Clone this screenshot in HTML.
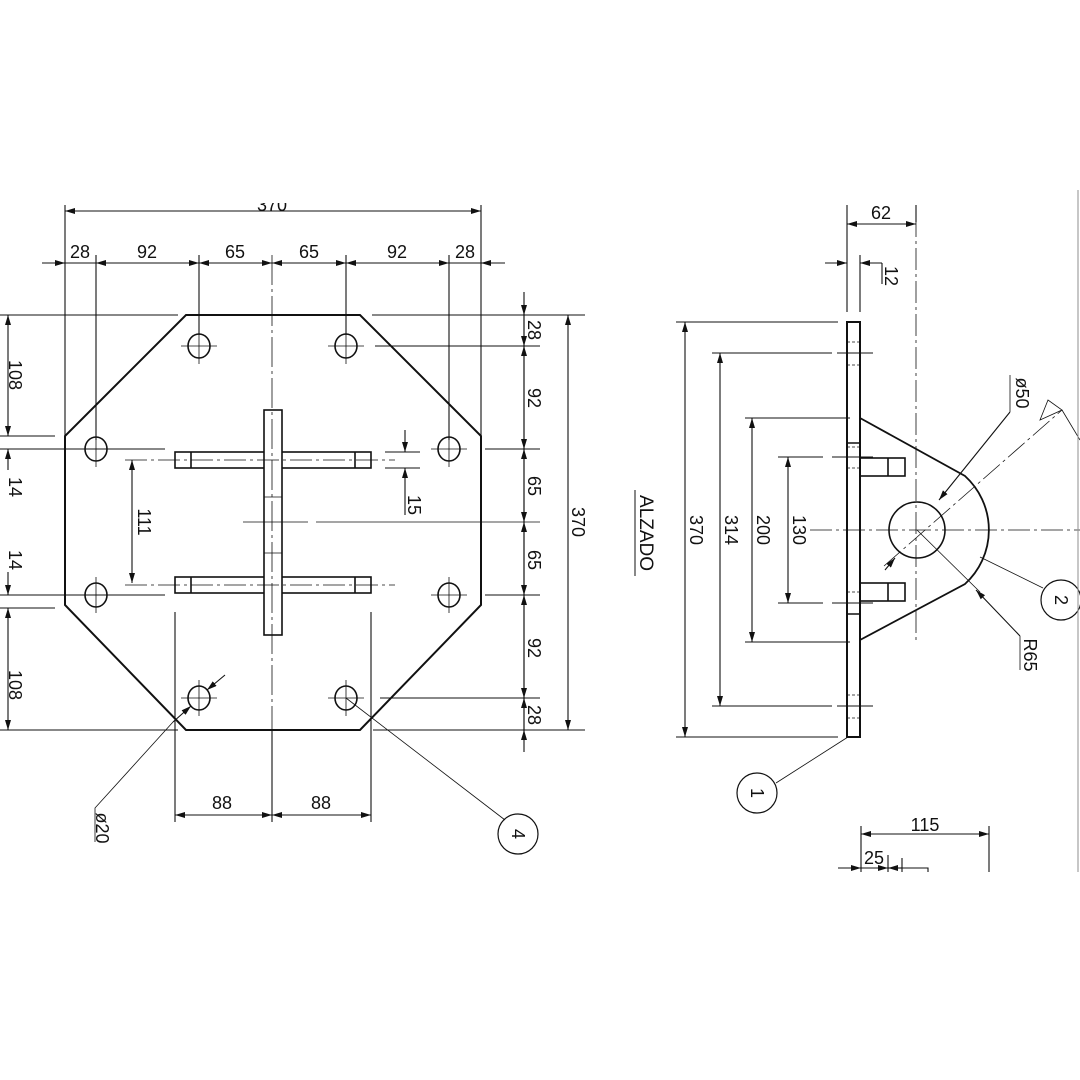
<!DOCTYPE html>
<html><head><style>
html,body{margin:0;padding:0;background:#fff;}
svg{display:block;}
text{font-family:"Liberation Sans",sans-serif;font-size:18px;fill:#111;}
</style></head><body>
<svg width="1080" height="1080" viewBox="0 0 1080 1080" xmlns="http://www.w3.org/2000/svg">
<defs>
<marker id="a" viewBox="0 0 10 6" refX="10" refY="3" markerWidth="10" markerHeight="6" orient="auto-start-reverse" markerUnits="userSpaceOnUse"><path d="M0,0L10,3L0,6z" fill="#111"/></marker>
</defs>
<g stroke="#111" fill="none" stroke-width="1.1">
<polygon points="186,315 360,315 481,436 481,605 360,730 186,730 65,605 65,436" stroke-width="2"/>
<g stroke-width="1.6">
<ellipse cx="199" cy="346" rx="11" ry="12"/><ellipse cx="346" cy="346" rx="11" ry="12"/>
<ellipse cx="96" cy="449" rx="11" ry="12"/><ellipse cx="449" cy="449" rx="11" ry="12"/>
<ellipse cx="96" cy="595" rx="11" ry="12"/><ellipse cx="449" cy="595" rx="11" ry="12"/>
<ellipse cx="199" cy="698" rx="11" ry="12"/><ellipse cx="346" cy="698" rx="11" ry="12"/>
</g>
<g stroke-width="0.8">
<path d="M181,346h36M199,328v36M328,346h36M346,328v36M78,449h36M96,431v36M431,449h36M449,431v36M78,595h36M96,577v36M431,595h36M449,577v36M181,698h36M199,680v36M328,698h36M346,680v36"/>
</g>
<g stroke-width="1.6">
<rect x="175" y="452" width="196" height="16"/>
<rect x="175" y="577" width="196" height="16"/>
<path d="M191,452v16M355,452v16M191,577v16M355,577v16"/>
<rect x="264" y="410" width="18" height="225" fill="#fff"/>
</g>
<path d="M264,497h18M264,553h18" stroke-width="0.8"/>
<path d="M272,255V730" stroke-dasharray="30,4,3,4" stroke-width="0.8"/>
<path d="M125,460H395M125,585H395" stroke-dasharray="22,4,3,4" stroke-width="0.8"/>
<path d="M243,522h65M316,522H540" stroke-width="0.8"/>
<path d="M65,205V436M481,205V436"/>
<path d="M65,211H481" marker-start="url(#a)" marker-end="url(#a)"/>
<path d="M96,255V440M199,255V335M346,255V335M449,255V440"/>
<path d="M42,263H65M65,263H96M96,263H199M199,263H272M272,263H346M346,263H449M449,263H481M481,263H505"/>
<path d="M55,263H65" marker-end="url(#a)"/><path d="M96,263H199" marker-start="url(#a)" marker-end="url(#a)"/>
<path d="M199,263H272" marker-start="url(#a)" marker-end="url(#a)"/><path d="M272,263H346" marker-start="url(#a)" marker-end="url(#a)"/>
<path d="M346,263H449" marker-start="url(#a)" marker-end="url(#a)"/><path d="M491,263H481" marker-end="url(#a)"/>
<path d="M0,315H178M372,315H585M375,346H540M485,449H540M485,595H540M380,698H540M0,730H178M373,730H585"/>
<path d="M524,292V752"/>
<path d="M524,305V315" marker-end="url(#a)"/><path d="M524,315V346" marker-end="url(#a)"/>
<path d="M524,346V449" marker-start="url(#a)" marker-end="url(#a)"/><path d="M524,449V522" marker-start="url(#a)" marker-end="url(#a)"/>
<path d="M524,522V595" marker-start="url(#a)" marker-end="url(#a)"/><path d="M524,595V698" marker-start="url(#a)" marker-end="url(#a)"/>
<path d="M524,698V730" marker-start="url(#a)"/><path d="M524,740V730" marker-end="url(#a)"/>
<path d="M568,315V730" marker-start="url(#a)" marker-end="url(#a)"/>
<path d="M0,436H55M0,449H165M0,595H165M0,608H55"/>
<path d="M8,315V436" marker-start="url(#a)" marker-end="url(#a)"/>
<path d="M8,449V470" marker-start="url(#a)"/><path d="M8,572V595" marker-end="url(#a)"/>
<path d="M8,608V730" marker-start="url(#a)" marker-end="url(#a)"/>
<path d="M132,460V583" marker-start="url(#a)" marker-end="url(#a)"/>
<path d="M385,452H420M385,468H420"/>
<path d="M405,430V452" marker-end="url(#a)"/><path d="M405,515V468" marker-end="url(#a)"/>
<path d="M175,612V822M371,612V822M272,730V822"/>
<path d="M175,815H272" marker-start="url(#a)" marker-end="url(#a)"/>
<path d="M272,815H371" marker-start="url(#a)" marker-end="url(#a)"/>
<path d="M225,675L207,690" marker-end="url(#a)"/>
<path d="M173,722L191,706" marker-end="url(#a)"/>
<path d="M173,722L95,808V842" stroke-width="0.8"/>
<path d="M346,698L505,820" stroke-width="0.8"/>
<circle cx="518" cy="834" r="20" stroke-width="1.2"/>

<rect x="847" y="322" width="13" height="415" stroke-width="2"/>
<path d="M847,443h13M847,614h13" stroke-width="1.5"/>
<path d="M847,342h13M847,365h13M847,447h13M847,468h13M847,592h13M847,614h13M847,695h13M847,718h13" stroke-width="0.7" stroke-dasharray="3,2"/>
<path d="M860,418L965,476A73,73 0 0 1 965,584L860,640" stroke-width="1.8"/>
<circle cx="917" cy="530" r="28" stroke-width="1.6"/>
<rect x="860" y="458" width="45" height="18" stroke-width="1.6"/><path d="M888,458v18M888,583v18" stroke-width="1.6"/>
<rect x="860" y="583" width="45" height="18" stroke-width="1.6"/>
<path d="M916,215V640" stroke-dasharray="22,4,3,4" stroke-width="0.8"/>
<path d="M810,530H1080" stroke-dasharray="22,4,3,4" stroke-width="0.8"/>
<path d="M884,566L1062,410" stroke-dasharray="22,4,3,4" stroke-width="0.8"/>
<path d="M847,205V312M916,205V222M860,255V312"/>
<path d="M847,224H916" marker-start="url(#a)" marker-end="url(#a)"/>
<path d="M825,263H847" marker-end="url(#a)"/><path d="M882,263H860" marker-end="url(#a)"/>
<path d="M882,263V284"/>
<path d="M676,322H838M712,353H832M837,353H873M745,418H850M778,457H823M832,457H873M778,603H823M832,603H873M745,642H850M712,706H832M837,706H873M676,737H838"/>
<path d="M685,322V737" marker-start="url(#a)" marker-end="url(#a)"/>
<path d="M720,353V706" marker-start="url(#a)" marker-end="url(#a)"/>
<path d="M752,418V642" marker-start="url(#a)" marker-end="url(#a)"/>
<path d="M788,457V603" marker-start="url(#a)" marker-end="url(#a)"/>
<path d="M1010,412L939,500" marker-end="url(#a)"/><path d="M1010,412V375" stroke-width="0.8"/>
<path d="M885,570L895,558" marker-end="url(#a)"/>
<path d="M917,530L980,592" stroke-width="0.8"/><path d="M1020,636L976,590" marker-end="url(#a)"/>
<path d="M1020,636V670" stroke-width="0.8"/>
<path d="M980,557L1043,588" stroke-width="0.8"/>
<circle cx="1061" cy="600" r="20" stroke-width="1.2"/>
<path d="M848,737L776,783" stroke-width="0.8"/>
<circle cx="757" cy="793" r="20" stroke-width="1.2"/>
<path d="M1040,420L1062,410l-14,-10z" stroke-width="0.8"/>
<path d="M1062,410L1080,440" stroke-width="0.8"/>
<path d="M861,826V872M989,826V872M888,855V872M902,858V872"/>
<path d="M861,834H989" marker-start="url(#a)" marker-end="url(#a)"/>
<path d="M838,868H861" marker-end="url(#a)"/><path d="M861,868H888" marker-end="url(#a)"/><path d="M902,868H888" marker-end="url(#a)"/>
<path d="M902,868H928V872"/>
<path d="M1078,190V872" stroke="#999"/>
<path d="M635,490V576" stroke-width="1"/>
</g>
<g>
<text x="272" y="211" text-anchor="middle">370</text>
<rect x="240" y="185" width="70" height="18" fill="#fff"/>
<text x="80" y="258" text-anchor="middle">28</text>
<text x="147" y="258" text-anchor="middle">92</text>
<text x="235" y="258" text-anchor="middle">65</text>
<text x="309" y="258" text-anchor="middle">65</text>
<text x="397" y="258" text-anchor="middle">92</text>
<text x="465" y="258" text-anchor="middle">28</text>
<text x="222" y="809" text-anchor="middle">88</text>
<text x="321" y="809" text-anchor="middle">88</text>
<text x="881" y="219" text-anchor="middle">62</text>
<text x="925" y="831" text-anchor="middle">115</text>
<text x="874" y="864" text-anchor="middle">25</text>
<g text-anchor="middle">
<text transform="translate(528,330) rotate(90)">28</text>
<text transform="translate(528,398) rotate(90)">92</text>
<text transform="translate(528,486) rotate(90)">65</text>
<text transform="translate(528,560) rotate(90)">65</text>
<text transform="translate(528,648) rotate(90)">92</text>
<text transform="translate(528,715) rotate(90)">28</text>
<text transform="translate(572,522) rotate(90)">370</text>
<text transform="translate(9,375) rotate(90)">108</text>
<text transform="translate(9,487) rotate(90)">14</text>
<text transform="translate(9,560) rotate(90)">14</text>
<text transform="translate(9,685) rotate(90)">108</text>
<text transform="translate(138,522) rotate(90)">111</text>
<text transform="translate(408,505) rotate(90)">15</text>
<text transform="translate(96,828) rotate(90)">ø20</text>
<text transform="translate(885,276) rotate(90)">12</text>
<text transform="translate(690,530) rotate(90)">370</text>
<text transform="translate(725,530) rotate(90)">314</text>
<text transform="translate(757,530) rotate(90)">200</text>
<text transform="translate(793,530) rotate(90)">130</text>
<text transform="translate(1016,393) rotate(90)">ø50</text>
<text transform="translate(1024,655) rotate(90)">R65</text>
<text transform="translate(640,533) rotate(90)" style="font-size:19px">ALZADO</text>
<text transform="translate(512,834) rotate(90)">4</text>
<text transform="translate(1055,600) rotate(90)">2</text>
<text transform="translate(751,793) rotate(90)">1</text>
</g>
</g>
</svg>
</body></html>
